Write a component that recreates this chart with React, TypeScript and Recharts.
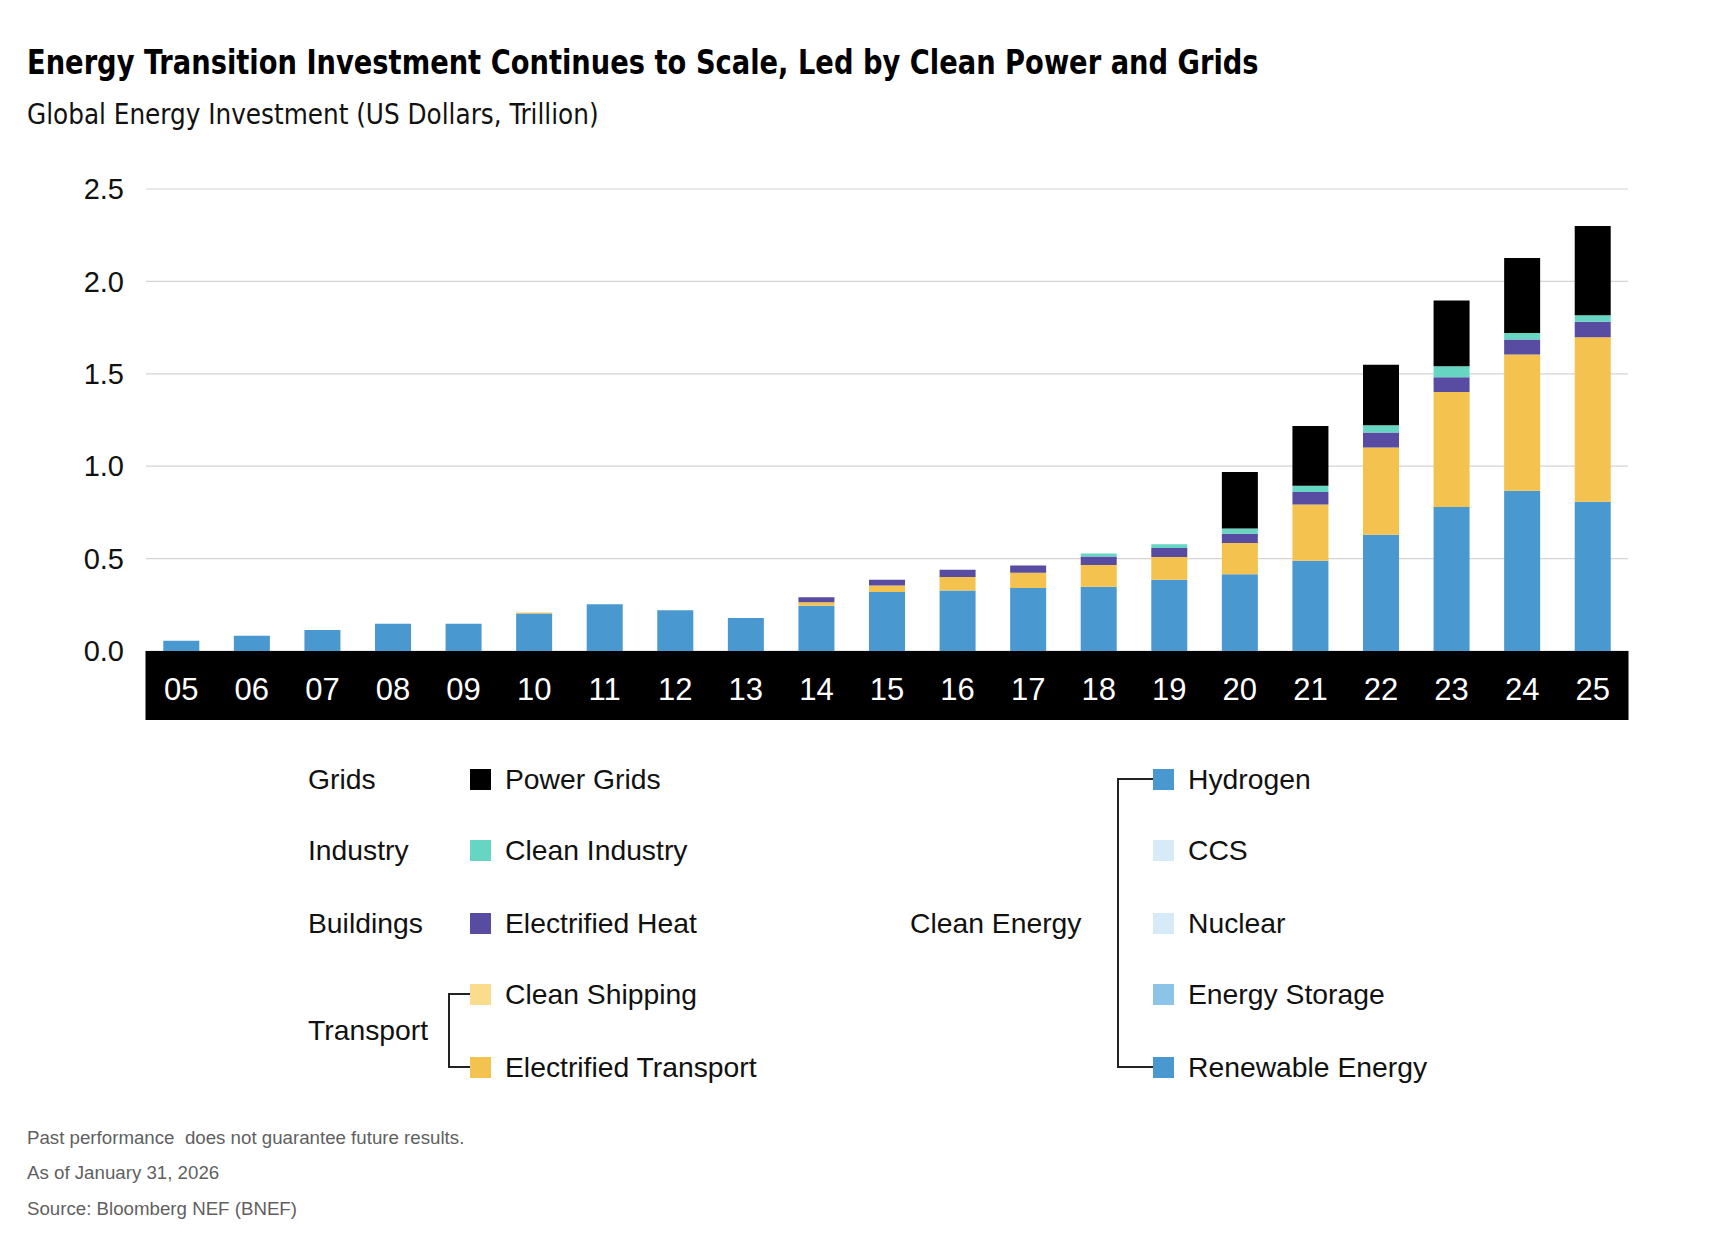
import React from "react";
import { BarChart, Bar, XAxis, YAxis, CartesianGrid } from "recharts";

// Global energy transition investment, US$ trillion, by year
const years = ["05", "06", "07", "08", "09", "10", "11", "12", "13", "14", "15", "16", "17", "18", "19", "20", "21", "22", "23", "24", "25"];
const renewableEnergy = [0.055, 0.082, 0.114, 0.148, 0.148, 0.203, 0.253, 0.22, 0.179, 0.245, 0.319, 0.327, 0.341, 0.347, 0.386, 0.415, 0.489, 0.629, 0.779, 0.867, 0.808];
const electrifiedTransport = [0, 0, 0, 0, 0, 0.006, 0, 0, 0, 0.019, 0.035, 0.074, 0.083, 0.119, 0.123, 0.169, 0.304, 0.472, 0.622, 0.737, 0.89];
const electrifiedHeat = [0, 0, 0, 0, 0, 0, 0, 0, 0, 0.027, 0.032, 0.039, 0.038, 0.045, 0.049, 0.051, 0.067, 0.081, 0.081, 0.081, 0.083];
const cleanIndustry = [0, 0, 0, 0, 0, 0, 0, 0, 0, 0, 0, 0, 0, 0.016, 0.02, 0.028, 0.034, 0.039, 0.059, 0.036, 0.036];
const powerGrids = [0, 0, 0, 0, 0, 0, 0, 0, 0, 0, 0, 0, 0, 0, 0, 0.305, 0.324, 0.328, 0.355, 0.405, 0.483];
const yTicks = [0, 0.5, 1, 1.5, 2, 2.5];

const COLORS = {
  renewable: "#4a98d0",
  hydrogen: "#4a98d0",
  ccs: "#d6eaf8",
  nuclear: "#d6eaf8",
  storage: "#8bc4e8",
  transport: "#f4c24e",
  shipping: "#f9dc8c",
  heat: "#574ca1",
  industry: "#66d5c2",
  grids: "#000000",
};

const leftLegend = [
  { group: "Grids", label: "Power Grids", color: COLORS.grids },
  { group: "Industry", label: "Clean Industry", color: COLORS.industry },
  { group: "Buildings", label: "Electrified Heat", color: COLORS.heat },
  { group: "", label: "Clean Shipping", color: COLORS.shipping },
  { group: "", label: "Electrified Transport", color: COLORS.transport },
];
const rightLegend = [
  { label: "Hydrogen", color: COLORS.hydrogen },
  { label: "CCS", color: COLORS.ccs },
  { label: "Nuclear", color: COLORS.nuclear },
  { label: "Energy Storage", color: COLORS.storage },
  { label: "Renewable Energy", color: COLORS.renewable },
];

const data = years.map((year, i) => ({
  year,
  renewable: renewableEnergy[i],
  transport: electrifiedTransport[i],
  heat: electrifiedHeat[i],
  industry: cleanIndustry[i],
  grids: powerGrids[i],
}));

const W = 1714;
const H = 1258;
const PLOT_LEFT = 146;
const PLOT_RIGHT = 1628;
const PLOT_TOP = 189;
const PLOT_BOTTOM = 651;
const BAND_H = 69;
const BAND = (PLOT_RIGHT - PLOT_LEFT) / years.length;
const FONT = "'Liberation Sans', Arial, sans-serif";
const NARROW = "'Liberation Sans Narrow', 'DejaVu Sans Condensed', 'Liberation Sans', sans-serif";

const ROW_Y = [779, 850, 923, 994, 1067];

// black band under the bars with the year in white
const YearTick = (props: any) => {
  const { x, y, payload } = props;
  return (
    <g>
      <rect x={x - BAND / 2 - 0.5} y={y} width={BAND + 1} height={BAND_H} fill="#000" />
      <text x={x} y={y + 38} textAnchor="middle" dominantBaseline="central" fill="#fff" fontSize={31} fontFamily={FONT}>
        {payload.value}
      </text>
    </g>
  );
};

const textAt = (x: number, cy: number, size: number, extra: React.CSSProperties = {}): React.CSSProperties => ({
  position: "absolute",
  left: x,
  top: cy - size * 0.75,
  lineHeight: `${size * 1.5}px`,
  fontSize: size,
  whiteSpace: "nowrap",
  ...extra,
});

const Swatch = ({ x, cy, color }: { x: number; cy: number; color: string }) => (
  <div style={{ position: "absolute", left: x, top: cy - 10.5, width: 21, height: 21, background: color }} />
);

export default function App() {
  const chartH = 730;
  return (
    <div style={{ position: "absolute", left: 0, top: 0, width: W, height: H, background: "#fff", fontFamily: FONT, color: "#111" }}>
      <div style={textAt(27, 62, 34, { fontFamily: NARROW, fontWeight: 700, color: "#000", transform: "scaleX(0.893)", transformOrigin: "left center" })}>
        Energy Transition Investment Continues to Scale, Led by Clean Power and Grids
      </div>
      <div style={textAt(27, 115, 27.5, { fontFamily: NARROW, color: "#111" })}>
        Global Energy Investment (US Dollars, Trillion)
      </div>

      <div style={{ position: "absolute", left: 0, top: 0 }}>
        <BarChart
          width={W}
          height={chartH}
          data={data}
          margin={{ top: PLOT_TOP, right: W - PLOT_RIGHT, bottom: chartH - PLOT_BOTTOM - BAND_H, left: 0 }}
          barCategoryGap="24.5%"
        >
          <CartesianGrid vertical={false} stroke="#d4d4d4" strokeWidth={1.2} />
          <XAxis
            dataKey="year"
            height={BAND_H}
            interval={0}
            tickLine={false}
            axisLine={false}
            tickSize={0}
            tickMargin={0}
            tick={<YearTick />}
          />
          <YAxis
            width={PLOT_LEFT}
            domain={[0, 2.5]}
            ticks={yTicks}
            tickFormatter={(v: number) => v.toFixed(1)}
            tickLine={false}
            axisLine={false}
            tickSize={0}
            tickMargin={22}
            tick={{ fill: "#111", fontSize: 29, fontFamily: FONT }}
          />
          <Bar dataKey="renewable" stackId="a" fill={COLORS.renewable} isAnimationActive={false} />
          <Bar dataKey="transport" stackId="a" fill={COLORS.transport} isAnimationActive={false} />
          <Bar dataKey="heat" stackId="a" fill={COLORS.heat} isAnimationActive={false} />
          <Bar dataKey="industry" stackId="a" fill={COLORS.industry} isAnimationActive={false} />
          <Bar dataKey="grids" stackId="a" fill={COLORS.grids} isAnimationActive={false} />
        </BarChart>
      </div>

      {/* legend, left block */}
      {leftLegend.map((d, i) => (
        <React.Fragment key={d.label}>
          {d.group && <div style={textAt(308, ROW_Y[i], 28.3)}>{d.group}</div>}
          <Swatch x={470} cy={ROW_Y[i]} color={d.color} />
          <div style={textAt(505, ROW_Y[i], 28.3)}>{d.label}</div>
        </React.Fragment>
      ))}
      <div style={textAt(308, 1030, 28.3)}>Transport</div>
      <div style={{ position: "absolute", left: 448, top: ROW_Y[3] - 1, width: 22, height: ROW_Y[4] - ROW_Y[3] + 2, borderLeft: "2px solid #222", borderTop: "2px solid #222", borderBottom: "2px solid #222", boxSizing: "border-box" as const }} />

      {/* legend, clean energy block */}
      <div style={textAt(910, ROW_Y[2], 28.3)}>Clean Energy</div>
      <div style={{ position: "absolute", left: 1117, top: ROW_Y[0] - 1, width: 36, height: ROW_Y[4] - ROW_Y[0] + 2, borderLeft: "2px solid #222", borderTop: "2px solid #222", borderBottom: "2px solid #222", boxSizing: "border-box" as const }} />
      {rightLegend.map((d, i) => (
        <React.Fragment key={d.label}>
          <Swatch x={1153} cy={ROW_Y[i]} color={d.color} />
          <div style={textAt(1188, ROW_Y[i], 28.3)}>{d.label}</div>
        </React.Fragment>
      ))}

      <div style={textAt(27, 1138, 18.7, { color: "#5f5f5f" })}>Past performance&nbsp; does not guarantee future results.</div>
      <div style={textAt(27, 1173, 18.7, { color: "#5f5f5f" })}>As of January 31, 2026</div>
      <div style={textAt(27, 1209, 18.7, { color: "#5f5f5f" })}>Source: Bloomberg NEF (BNEF)</div>
    </div>
  );
}
